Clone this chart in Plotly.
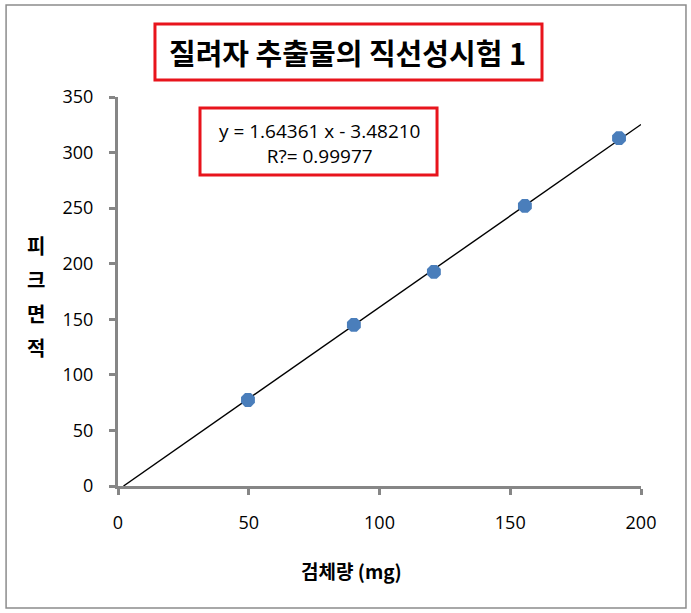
import plotly.graph_objects as go

# Data
sample_mg = [49.7, 90.2, 120.8, 155.6, 191.6]
peak_area = [77.4, 145.0, 192.6, 252.0, 313.0]
slope = 1.64361
intercept = -3.48210
r2_text = "R?= 0.99977"
x_ticks = [0, 50, 100, 150, 200]
y_ticks = [0, 50, 100, 150, 200, 250, 300, 350]
title_text = "질려자 추출물의 직선성시험 1"
x_title = "검체량 (mg)"
y_title_chars = ["피", "크", "면", "적"]

line_x = [-intercept / slope, 200]
line_y = [slope * v + intercept for v in line_x]

font_main = "Open Sans, Noto Sans CJK KR, sans-serif"
axis_gray = "#868686"

fig = go.Figure()
fig.add_trace(go.Scatter(x=line_x, y=line_y, mode="lines",
                         line=dict(color="black", width=1.4),
                         hoverinfo="skip", showlegend=False))
fig.add_trace(go.Scatter(x=sample_mg, y=peak_area, mode="markers",
                         marker=dict(symbol="octagon", size=15, color="#4a7ebb",
                                     line=dict(width=0)),
                         showlegend=False))

axis_common = dict(showgrid=False, zeroline=False, showline=True,
                   linecolor=axis_gray, linewidth=3, ticks="outside",
                   ticklen=6, tickwidth=3, tickcolor=axis_gray,
                   tickfont=dict(family=font_main, size=18, color="black"))

fig.update_xaxes(range=[0, 200], tickvals=x_ticks, ticklabelstandoff=12, **axis_common)
fig.update_yaxes(range=[0, 350], tickvals=y_ticks, ticklabelstandoff=12, **axis_common)

shapes = [
    # outer border
    dict(type="rect", xref="paper", yref="paper", x0=-0.214, x1=1.086,
         y0=-0.3136, y1=1.2365, line=dict(color="#8c8c8c", width=1.5)),
    # title box
    dict(type="rect", xref="paper", yref="paper", x0=0.0707, x1=0.8107,
         y0=1.0437, y1=1.1877, line=dict(color="#e8141c", width=3)),
    # equation box
    dict(type="rect", xref="paper", yref="paper", x0=0.1568, x1=0.61,
         y0=0.7995, y1=0.9717, line=dict(color="#e8141c", width=3)),
]

annotations = [
    dict(text="<b>" + title_text + "</b>", xref="paper", yref="paper",
         x=0.4379, y=1.1157, xanchor="center", yanchor="middle", showarrow=False,
         font=dict(family="Noto Sans CJK KR", size=29, color="black")),
    dict(text="y = %.5f x - %.5f<br>%s" % (slope, -intercept, r2_text),
         xref="paper", yref="paper", x=0.3862, y=0.8817,
         xanchor="center", yanchor="middle", showarrow=False,
         font=dict(family=font_main, size=19, color="black"), align="center"),
    dict(text="<b>" + x_title + "</b>", xref="paper", yref="paper",
         x=0.4474, y=-0.216, xanchor="center", yanchor="middle", showarrow=False,
         font=dict(family="Noto Sans CJK KR", size=19, color="black")),
]
for ch, yy in zip(y_title_chars, [0.6195, 0.5296, 0.4447, 0.3573]):
    annotations.append(dict(text="<b>" + ch + "</b>", xref="paper", yref="paper",
                            x=-0.157, y=yy, xanchor="center", yanchor="middle",
                            showarrow=False,
                            font=dict(family="Noto Sans CJK KR", size=20, color="black")))

fig.update_layout(width=691, height=613,
                  margin=dict(l=118, r=50, t=97, b=127),
                  plot_bgcolor="white", paper_bgcolor="white",
                  shapes=shapes, annotations=annotations)

fig.write_html("out.html", config={"displayModeBar": False},
               post_script="document.body.style.margin='0';")
